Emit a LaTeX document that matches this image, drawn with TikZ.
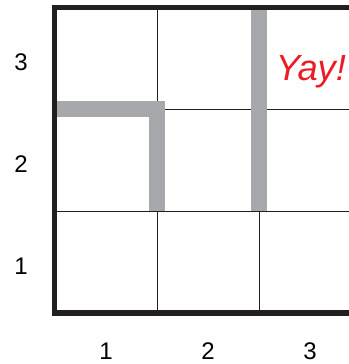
\documentclass[tikz,border=0pt]{standalone}
\usepackage{fontspec}
\setmainfont{Liberation Sans}
\usepackage{xcolor}
\definecolor{wallgray}{RGB}{167,168,171}
\definecolor{frameblack}{RGB}{35,31,32}
\definecolor{yayred}{RGB}{237,28,36}

\begin{document}
\begin{tikzpicture}[x=3.06cm, y=3.06cm,
  GR/.style={draw=frameblack, line width=0.7pt},
  FR/.style={draw=frameblack, line width=4.3pt, line join=miter},
  WL/.style={draw=wallgray, line width=14pt, line join=miter},
  LB/.style={font=\fontsize{20.5}{24}\selectfont, inner sep=0pt},
  YY/.style={font=\fontsize{31}{36}\selectfont\itshape, text=yayred, inner sep=0pt}
]
  \clip (-0.539,-0.5) rectangle (2.882,3.069);
  % grid
  \foreach \i in {1,2} {
    \draw[GR] (\i,0) -- (\i,3);
    \draw[GR] (0,\i) -- (3,\i);
  }
  % walls
  \draw[WL] (0,2) -- (1,2) -- (1,1);
  \draw[WL] (2,3) -- (2,1);
  % frame
  \draw[FR] (3,3) -- (0,3) -- (0,0) -- (3,0);
  % labels
  \foreach \n in {1,2,3} {
    \node[LB] (row\n) at (-0.333,\n-0.54) {\n};
    \node[LB] (col\n) at (\n-0.5,-0.37) {\n};
  }
  \node[YY, anchor=base] (yay) at (2.51,2.284) {Yay!};
\end{tikzpicture}
\end{document}
